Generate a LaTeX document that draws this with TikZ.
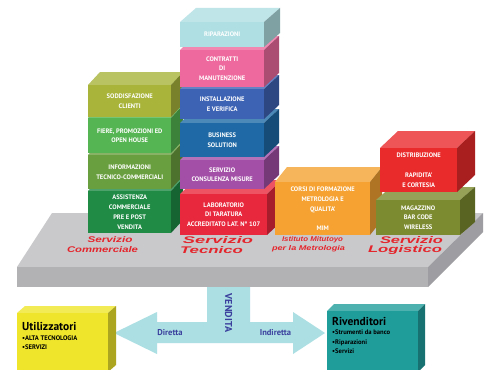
\documentclass[tikz,border=0pt]{standalone}
\usepackage{fontspec}
\setsansfont{PT Sans}
\newfontfamily\labfont{Liberation Sans}
\definecolor{cSod}{HTML}{A8B43A}
\definecolor{cFie}{HTML}{55B552}
\definecolor{cInf}{HTML}{6A9F3F}
\definecolor{cAss}{HTML}{1F8B45}
\definecolor{cRip}{HTML}{B0DFE3}
\definecolor{cCon}{HTML}{EE6A9E}
\definecolor{cIns}{HTML}{3D63B5}
\definecolor{cBus}{HTML}{1F6AA6}
\definecolor{cCns}{HTML}{A34FA7}
\definecolor{cLab}{HTML}{E8283C}
\definecolor{cOra}{HTML}{F5A232}
\definecolor{cDis}{HTML}{EA2B2C}
\definecolor{cMag}{HTML}{7C8B2F}
\definecolor{slabTop}{HTML}{C9C9CC}
\definecolor{slabFront}{HTML}{B2B2B5}
\definecolor{slabSide}{HTML}{9E9EA2}
\definecolor{arrowC}{HTML}{ACDFE3}
\definecolor{cYel}{HTML}{EFE62C}
\definecolor{cTeal}{HTML}{1F9D9B}
\definecolor{labRed}{HTML}{E4262C}
\definecolor{vBlue}{HTML}{3A3F9D}
\tikzset{
  facetxt/.style={inner sep=0pt, anchor=north west, align=center, text=white,
    font=\sffamily\bfseries\fontsize{6.5}{9.8}\selectfont},
  slablbl/.style={text=labRed, inner sep=0pt},
  bigname/.style={anchor=base west, inner sep=0pt, font=\sffamily\bfseries\fontsize{11.5}{12}\selectfont},
  listitem/.style={anchor=base west, inner sep=0pt, font=\sffamily\bfseries\fontsize{6.6}{8}\selectfont},
  flowtxt/.style={inner sep=0pt, text=vBlue, font=\sffamily\bfseries\fontsize{8.5}{9}\selectfont}
}
% name, x1, y1, x2, y2, dx, dy(up), colour, text
\newcommand\cube[9]{%
  \fill[#8!80!white] (#2,#3) -- (#2+#6,#3-#7) -- (#4+#6,#3-#7) -- (#4,#3) -- cycle;
  \fill[#8!72!black] (#4,#3) -- (#4+#6,#3-#7) -- (#4+#6,#5-#7) -- (#4,#5) -- cycle;
  \node[facetxt, fill=#8, minimum width={#4pt-#2pt}, minimum height={#5pt-#3pt}] (#1) at (#2,#3) {#9};
}
% name, x, y, width, height, text
\newcommand\slablabel[6]{%
  \node[slablbl] (#1) at (#2,#3) {\resizebox{#4pt}{#5pt}{\labfont\bfseries\itshape #6}};
}
\begin{document}
\begin{tikzpicture}[x=1pt,y=-1pt]
\useasboundingbox[fill=white] (0,0) rectangle (489,369);
% platform slab
\coordinate (sA) at (52,213);
\coordinate (sB) at (483,213);
\coordinate (sC) at (428,267);
\coordinate (sD) at (17,267);
\coordinate (sE) at (17,287);
\coordinate (sF) at (428,287);
\coordinate (sG) at (483,232);
\fill[slabTop] (sA) -- (sB) -- (sC) -- (sD) -- cycle;
\fill[slabFront] (sD) -- (sC) -- (sF) -- (sE) -- cycle;
\fill[slabSide] (sC) -- (sB) -- (sG) -- (sF) -- cycle;
% left column
\cube{ass}{88}{191}{171}{233}{12}{13}{cAss}{ASSISTENZA\\COMMERCIALE\\PRE E POST\\VENDITA}
\cube{inf}{88}{155}{171}{189}{12}{13}{cInf}{INFORMAZIONI\\TECNICO-COMMERCIALI}
\cube{fie}{88}{118}{171}{153}{12}{13}{cFie}{FIERE, PROMOZIONI ED\\OPEN HOUSE}
\cube{sod}{88}{85}{171}{117}{12}{13}{cSod}{SODDISFAZIONE\\CLIENTI}
% middle column
\cube{lab}{180}{194}{267}{235}{15}{14}{cLab}{LABORATORIO\\DI TARATURA\\ACCREDITATO LAT. N° 107}
\cube{cns}{180}{160}{264}{189}{15}{14}{cCns}{SERVIZIO\\CONSULENZA MISURE}
\cube{bus}{180}{123}{264}{157}{15}{14}{cBus}{BUSINESS\\SOLUTION}
\cube{ins}{180}{89}{264}{119}{15}{14}{cIns}{INSTALLAZIONE\\E VERIFICA}
\cube{con}{180}{50}{264}{87}{15}{14}{cCon}{CONTRATTI\\DI\\MANUTENZIONE}
\cube{rip}{180}{22}{264}{47}{16}{14}{cRip}{RIPARAZIONI}
% right part
\cube{ora}{275}{182}{370}{235}{12}{15}{cOra}{CORSI DI FORMAZIONE\\METROLOGIA E\\QUALITA’\\[9.8pt]MIM}
\cube{mag}{376}{200}{460}{235}{15}{13}{cMag}{MAGAZZINO\\BAR CODE\\WIRELESS}
\cube{dis}{380}{148}{457}{192}{18}{17}{cDis}{DISTRIBUZIONE\\[9.8pt]RAPIDITA’\\E CORTESIA}
% slab labels
\slablabel{l1a}{110}{240}{45}{6}{Servizio}
\slablabel{l1b}{102.5}{249.5}{71}{6}{Commerciale}
\slablabel{l2a}{218}{240.5}{70}{7}{Servizio}
\slablabel{l2b}{211.5}{250}{63}{7}{Tecnico}
\slablabel{l3a}{312.5}{240}{61}{5}{Istituto Mitutoyo}
\slablabel{l3b}{308.5}{249}{73}{5}{per la Metrologia}
\slablabel{l4a}{411.5}{240}{63}{7}{Servizio}
\slablabel{l4b}{405}{250}{74}{7}{Logistico}
% sales arrow
\fill[arrowC] (207,287) -- (250,287) -- (250,322) -- (293,322) -- (293,312) -- (325,333)
  -- (293,354) -- (293,343) -- (157,343) -- (157,354) -- (114,333) -- (157,312)
  -- (157,322) -- (207,322) -- cycle;
\node[flowtxt, rotate=-90, font=\sffamily\bfseries\fontsize{10}{10}\selectfont] (vend) at (228.5,313) {VENDITA};
\node[flowtxt] (dir) at (170,333) {Diretta};
\node[flowtxt] (ind) at (275.5,333) {Indiretta};
% customers
\cube{uti}{17}{313}{108}{372}{8}{7}{cYel}{}
\cube{riv}{327}{311}{418}{372}{7}{7}{cTeal}{}
\node[bigname] (utiT) at (22,330) {Utilizzatori};
\node[listitem] (uti1) at (22,340) {•ALTA TECNOLOGIA};
\node[listitem] (uti2) at (22,349) {•SERVIZI};
\node[bigname] (rivT) at (332,325) {Rivenditori};
\node[listitem] (riv1) at (332,334.5) {•Strumenti da banco};
\node[listitem] (riv2) at (332,344) {•Riparazioni};
\node[listitem] (riv3) at (332,353.5) {•Servizi};
\end{tikzpicture}
\end{document}
